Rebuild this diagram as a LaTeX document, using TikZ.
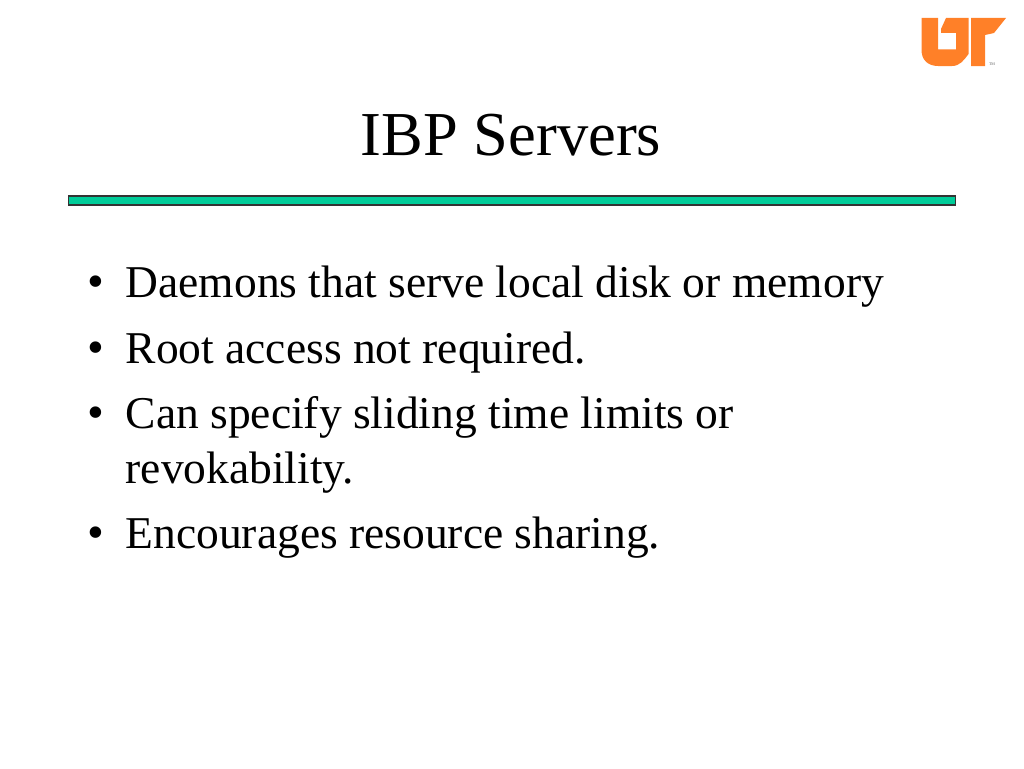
\documentclass[tikz,border=0pt]{standalone}
\usepackage{fontspec}
\setmainfont{Liberation Serif}
\definecolor{barteal}{RGB}{0,204,153}
\definecolor{utorange}{RGB}{255,128,40}
\tikzset{
  x=1pt,y=-1pt,
  bodytext/.style={anchor=base west,inner sep=0pt,font=\fontsize{45.5}{45.5}\selectfont},
  bullettext/.style={anchor=base west,inner sep=0pt,font=\fontsize{48}{48}\selectfont},
  logo/.style={fill=utorange,draw=none}
}
\begin{document}
\begin{tikzpicture}
\useasboundingbox (0,0) rectangle (1024,768);
\fill[white] (0,0) rectangle (1024,768);
\node[anchor=base,inner sep=0pt,font=\fontsize{62.5}{62.5}\selectfont] (title) at (511,155) {IBP Servers};
\draw[fill=barteal,draw=black!80,line width=1.3pt] (68.5,196) rectangle (955.5,205);
\node[bullettext] (b1) at (87,297.5) {•};
\node[bodytext] (t1) at (125.5,297) {Daemons that serve local disk or memory};
\node[bullettext] (b2) at (87,363.5) {•};
\node[bodytext] (t2) at (125.5,363) {Root access not required.};
\node[bullettext] (b3) at (87,428.5) {•};
\node[bodytext] (t3) at (125.5,428) {Can specify sliding time limits or};
\node[bodytext] (t3b) at (125.5,483) {revokability.};
\node[bullettext] (b4) at (87,548.5) {•};
\node[bodytext] (t4) at (125.5,548) {Encourages resource sharing.};
% logo
\fill[logo] (921.5,18) -- (938,18) -- (938,49.5) -- (956,49.5) -- (956,33) -- (941,33) -- (941,29) -- (946,18) -- (968.5,18)
  -- (968.5,54) .. controls (964,60) and (960,66) .. (952,66) -- (938,66) .. controls (928,66) and (921.5,60) .. (921.5,50) -- cycle;
\fill[logo] (971,18) -- (1006,18) -- (994,33) -- (985,35) -- (985,66) -- (971,66) -- cycle;
\node[inner sep=0pt,font=\fontsize{4}{4}\selectfont,text=black!60] (tm) at (992,64) {TM};
\end{tikzpicture}
\end{document}
